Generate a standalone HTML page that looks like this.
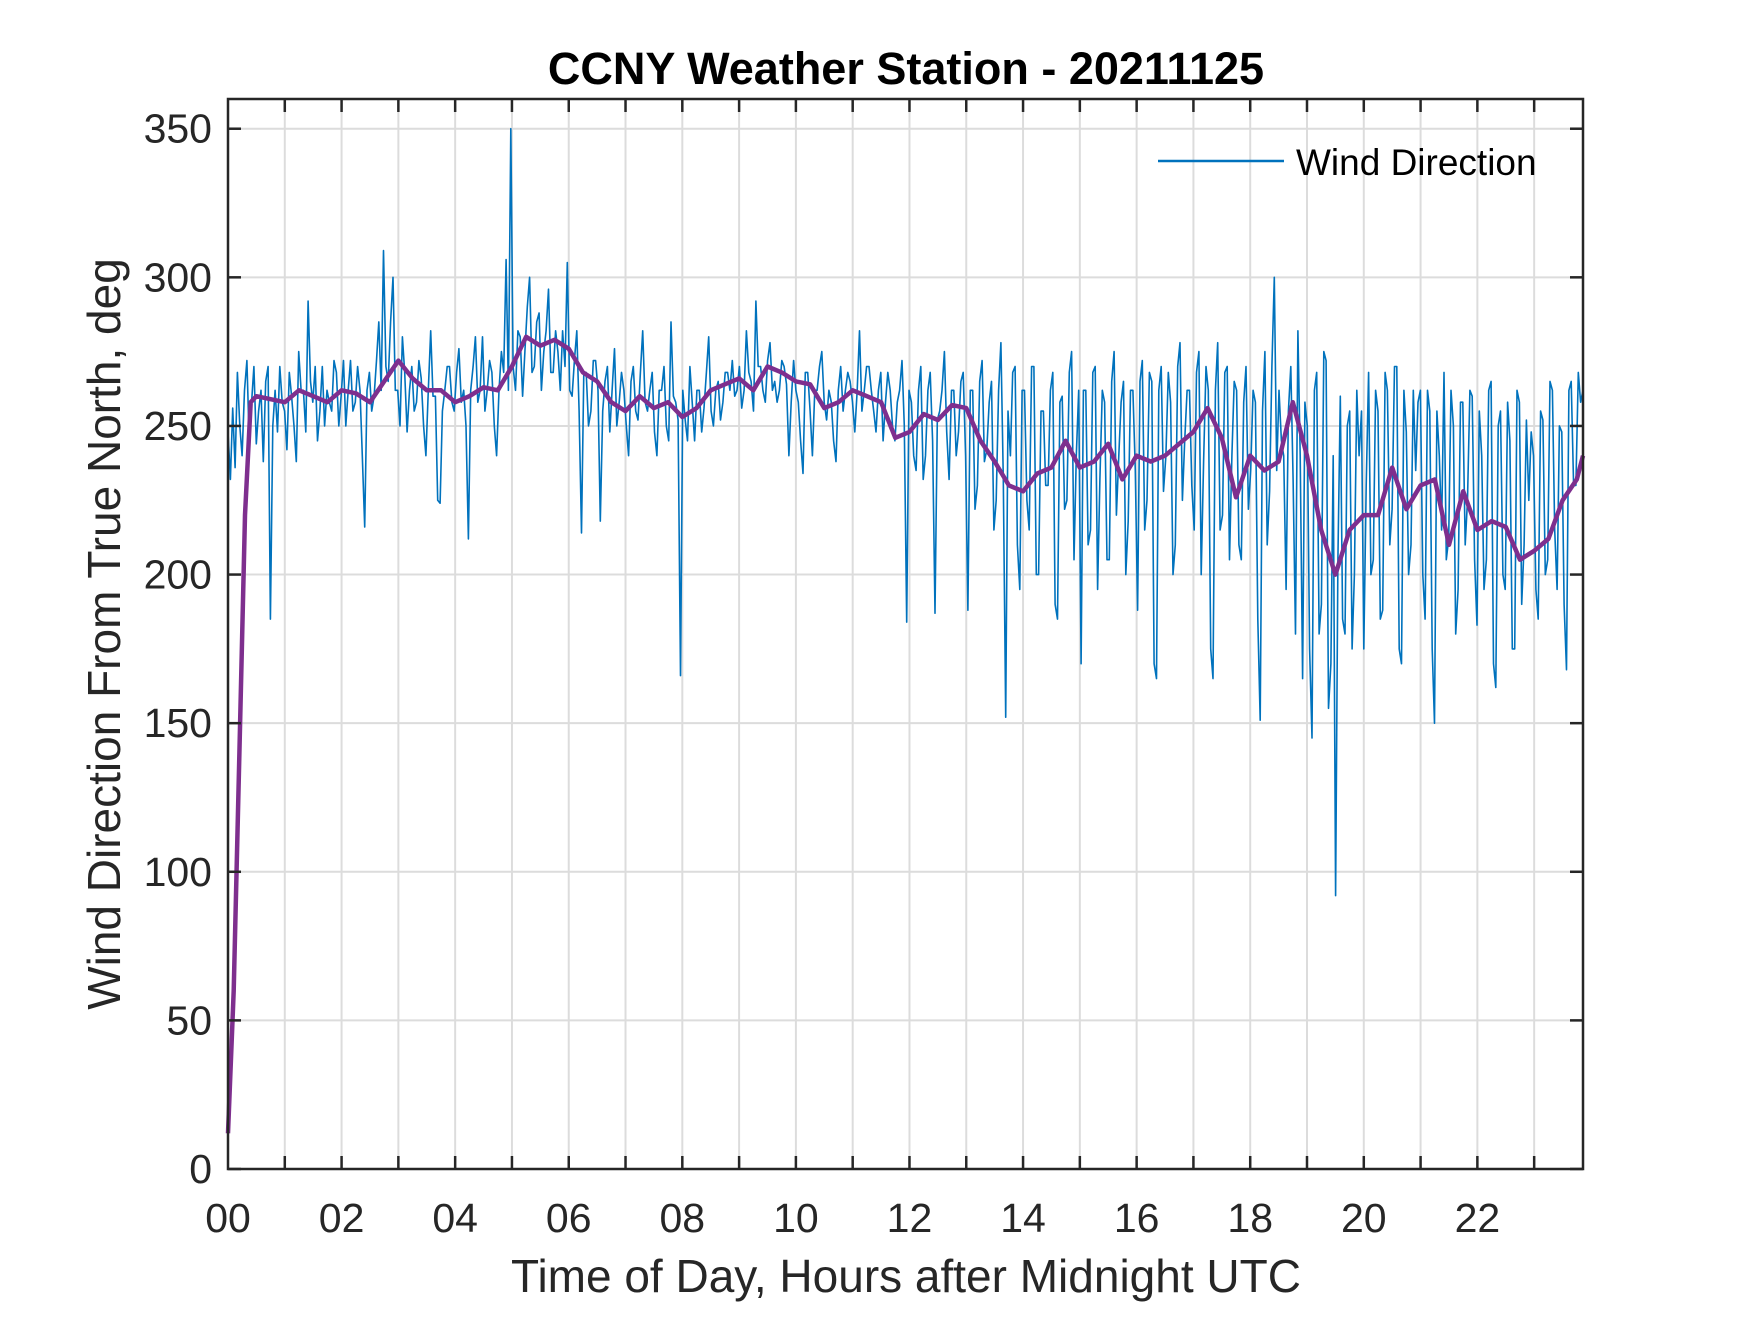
<!DOCTYPE html>
<html><head><meta charset="utf-8"><style>
html,body{margin:0;padding:0;background:#fff;}
svg text{font-family:"Liberation Sans",Arial,sans-serif;}
</style></head><body>
<svg id="chart" width="1750" height="1313" viewBox="0 0 1750 1313" xmlns="http://www.w3.org/2000/svg">
<rect width="1750" height="1313" fill="#fff"/>
<g id="grid"></g>
<g id="series"></g>
<g id="axes"></g>
<text x="906" y="84" text-anchor="middle" font-size="45" font-weight="bold" fill="#000">CCNY Weather Station - 20211125</text>
<text x="906" y="1292" text-anchor="middle" font-size="46" fill="#262626">Time of Day, Hours after Midnight UTC</text>
<text transform="translate(120,634) rotate(-90)" text-anchor="middle" font-size="46" fill="#262626">Wind Direction From True North, deg</text>
<g>
<line x1="1158" y1="161" x2="1284" y2="161" stroke="#0072BD" stroke-width="2.5"/>
<text x="1296" y="175" font-size="37" fill="#000">Wind Direction</text>
</g>
</svg>
<script>
const yTicks = [0,50,100,150,200,250,300,350];
const xTickLabels = ["00","02","04","06","08","10","12","14","16","18","20","22"];
const xStart = 0, xEnd = 23.86;
const windDir = [
248,232,256,236,268,250,240,262,272,245,258,270,244,255,262,238,265,270,185,250,262,248,270,258,
255,242,268,260,250,238,275,262,262,248,292,265,258,270,245,255,270,250,262,258,255,272,268,250,
260,272,250,262,272,255,258,270,262,240,216,262,268,255,260,272,285,262,309,270,265,285,300,262,
262,250,280,268,248,262,270,255,258,272,266,250,240,262,282,260,260,225,224,255,262,270,270,258,
255,268,276,258,262,250,212,262,270,280,258,262,280,255,262,272,268,250,240,262,275,268,306,262,
350,270,262,282,280,260,275,290,300,268,270,285,288,262,275,282,296,268,268,282,275,262,282,270,
305,262,260,272,282,255,214,268,268,250,255,272,272,262,218,255,265,270,248,262,276,250,258,268,
262,250,240,265,270,255,252,268,282,258,255,262,268,248,240,262,262,270,250,245,285,260,258,252,
166,262,252,245,270,258,245,262,262,248,256,268,280,255,250,262,265,252,258,268,268,262,272,260,
262,270,256,262,282,268,265,255,292,270,270,262,258,272,278,262,265,258,262,272,270,264,240,258,
272,262,258,245,234,268,268,255,240,262,262,270,275,258,252,262,258,245,238,262,270,255,262,268,
265,258,248,262,282,255,262,270,270,262,255,248,262,268,245,258,268,262,250,245,258,262,272,250,
184,262,258,240,235,262,270,232,240,262,268,245,187,252,255,262,275,248,232,262,262,240,248,265,
268,240,188,262,262,222,230,265,272,238,242,258,265,215,225,262,278,232,152,255,240,268,270,210,
195,262,262,225,215,270,270,200,200,255,255,230,230,262,268,190,185,258,260,222,225,268,275,205,
240,262,170,262,262,210,215,268,270,195,232,262,258,205,205,265,275,220,240,258,265,200,218,262,
262,235,188,265,272,215,225,268,265,170,165,262,270,228,240,268,258,200,210,270,278,225,245,262,
262,230,215,268,275,200,238,270,262,175,165,262,278,215,220,268,270,205,240,265,262,210,205,258,
270,222,235,262,258,185,151,255,275,210,228,270,300,235,262,245,240,195,255,270,232,180,282,240,
165,258,250,175,145,262,268,180,190,275,272,155,170,240,92,205,260,185,180,250,255,175,200,262,
240,255,175,230,268,200,205,262,255,185,188,268,262,210,222,270,270,175,170,262,248,200,210,262,
235,258,262,200,185,262,255,175,150,255,240,215,268,205,212,262,250,180,195,258,258,210,225,262,
260,205,183,255,240,195,205,262,265,170,162,250,255,200,195,258,245,175,175,262,258,190,210,252,
225,248,240,195,185,255,252,200,205,265,262,215,195,250,248,190,168,262,265,230,230,268,258,262];
const avgHours = [0,0.1,0.2,0.3,0.4,0.5,0.75,1,1.25,1.5,1.75,2,2.25,2.5,2.75,3,3.25,3.5,3.75,4,4.25,4.5,4.75,5,5.25,5.5,5.75,6,6.25,6.5,6.75,7,7.25,7.5,7.75,8,8.25,8.5,8.75,9,9.25,9.5,9.75,10,10.25,10.5,10.75,11,11.25,11.5,11.75,12,12.25,12.5,12.75,13,13.25,13.5,13.75,14,14.25,14.5,14.75,15,15.25,15.5,15.75,16,16.25,16.5,16.75,17,17.25,17.5,17.75,18,18.25,18.5,18.75,19,19.25,19.5,19.75,20,20.25,20.5,20.75,21,21.25,21.5,21.75,22,22.25,22.5,22.75,23,23.25,23.5,23.75,23.86];
const avgDir = [12,60,140,220,258,260,259,258,262,260,258,262,261,258,265,272,266,262,262,258,260,263,262,270,280,277,279,276,268,265,258,255,260,256,258,253,256,262,264,266,262,270,268,265,264,256,258,262,260,258,246,248,254,252,257,256,245,238,230,228,234,236,245,236,238,244,232,240,238,240,244,248,256,246,226,240,235,238,258,240,215,200,215,220,220,236,222,230,232,210,228,215,218,216,205,208,212,225,232,240];

const L=228,R=1583,T=99,B=1169;
const xs=h=>L+(h-xStart)/(xEnd-xStart)*(R-L);
const ys=v=>B-v/360*(B-T);
const NS="http://www.w3.org/2000/svg";
function mk(tag,attrs,parent){const e=document.createElementNS(NS,tag);for(const k in attrs)e.setAttribute(k,attrs[k]);parent.appendChild(e);return e;}
const grid=document.getElementById('grid'),axes=document.getElementById('axes'),series=document.getElementById('series');
for(let h=1;h<=23;h++){
  const x=xs(h);
  const g=mk('line',{x1:x,y1:T,x2:x,y2:B,stroke:'#dcdcdc','stroke-width':2},grid);
  
  
  const t1=mk('line',{x1:x,y1:B,x2:x,y2:B-13,stroke:'#262626','stroke-width':2.5},axes);
  
  
  const t2=mk('line',{x1:x,y1:T,x2:x,y2:T+13,stroke:'#262626','stroke-width':2.5},axes);
  
  
}
xTickLabels.forEach((lab,i)=>{
  const t=mk('text',{x:xs(i*2),y:1232,'text-anchor':'middle','font-size':41,fill:'#262626'},axes);
  t.textContent=lab;
  
  
});
yTicks.forEach(v=>{
  const y=ys(v);
  if(v>0){
    const g=mk('line',{x1:L,y1:y,x2:R,y2:y,stroke:'#dcdcdc','stroke-width':2},grid);
    
    
  }
  const t1=mk('line',{x1:L,y1:y,x2:L+13,y2:y,stroke:'#262626','stroke-width':2.5},axes);
  
  
  const t2=mk('line',{x1:R,y1:y,x2:R-13,y2:y,stroke:'#262626','stroke-width':2.5},axes);
  
  
  const t=mk('text',{x:L-16,y:y+14,'text-anchor':'end','font-size':41,fill:'#262626'},axes);
  t.textContent=v;
  
  
});
const box=mk('rect',{x:L,y:T,width:R-L,height:B-T,fill:'none',stroke:'#262626','stroke-width':2.5},axes);


const n=windDir.length;
const pts=windDir.map((v,i)=>xs(xStart+i*(xEnd-xStart)/(n-1)).toFixed(1)+','+ys(v).toFixed(1)).join(' ');
const p1=mk('polyline',{points:pts,fill:'none',stroke:'#0072BD','stroke-width':1.6,'stroke-linejoin':'round'},series);


const pts2=avgDir.map((v,i)=>xs(avgHours[i]).toFixed(1)+','+ys(v).toFixed(1)).join(' ');
const p2=mk('polyline',{points:pts2,fill:'none',stroke:'#7E2F8E','stroke-width':4.5,'stroke-linejoin':'round'},series);


</script>
</body></html>
